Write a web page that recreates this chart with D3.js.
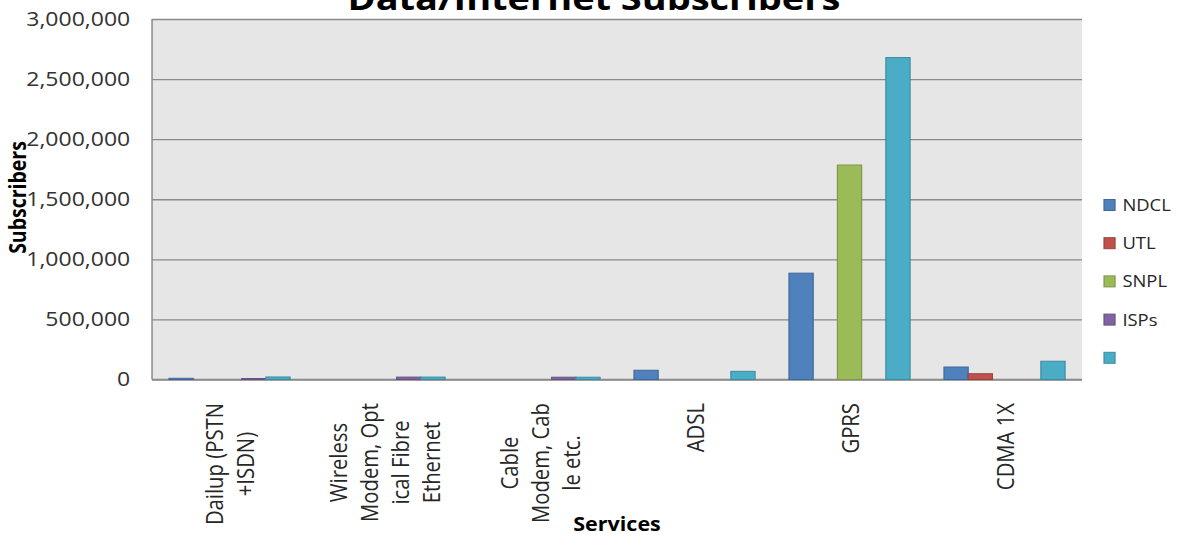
<!DOCTYPE html>
<html>
<head>
<meta charset="utf-8">
<script src="https://cdn.jsdelivr.net/npm/d3@7"></script>
<style>
  body { margin: 0; background: #fff; }
  text { font-family: "Open Sans", sans-serif; }
</style>
</head>
<body>
<svg id="chart"></svg>
<script>
// data
var categories = ["Dailup (PSTN +ISDN)", "Wireless Modem, Optical Fibre Ethernet", "Cable Modem, Cable etc.", "ADSL", "GPRS", "CDMA 1X"];
var tickLines = [["Dailup (PSTN", "+ISDN)"], ["Wireless", "Modem, Opt", "ical Fibre", "Ethernet"], ["Cable", "Modem, Cab", "le etc."], ["ADSL"], ["GPRS"], ["CDMA 1X"]];
var seriesNames = ["NDCL", "UTL", "SNPL", "ISPs", ""];
var ndcl = [10000, 0, 0, 77000, 885000, 104000];
var utl  = [0, 0, 0, 0, 0, 48000];
var snpl = [0, 0, 0, 0, 1785000, 0];
var isps = [8000, 20000, 19000, 0, 0, 0];
var total = [21000, 20000, 19000, 68000, 2679000, 152000];
var yTicks = [0, 500000, 1000000, 1500000, 2000000, 2500000, 3000000];

var series = [ndcl, utl, snpl, isps, total];
var colors = ["#4F81BD", "#C0504D", "#9BBB59", "#8064A2", "#4BACC6"];

// the picture is a bit wide, so draw in a narrower box and stretch it
var sx = 1.15, w = 1179, h = 535, vw = w / sx;
var pLeft = 132.2, pRight = 940.9, pTop = 19, pBottom = 379.5;

var svg = d3.select("#chart")
    .attr("width", w)
    .attr("height", h)
    .attr("viewBox", [0, 0, vw, h].join(" "))
    .attr("preserveAspectRatio", "none");

var x0 = d3.scaleBand().domain(categories).range([pLeft, pRight]);
var x1 = d3.scaleBand().domain(d3.range(series.length))
    .range([0, x0.bandwidth()]).paddingOuter(0.7);
var y = d3.scaleLinear().domain([0, 3000000]).range([pBottom, pTop]);

svg.append("rect")
    .attr("x", pLeft).attr("y", pTop)
    .attr("width", pRight - pLeft).attr("height", pBottom - pTop)
    .attr("fill", "#e6e6e6");

// gridlines + tick labels
var yAxis = svg.append("g")
    .attr("transform", "translate(" + pLeft + ",0)")
    .call(d3.axisLeft(y).tickValues(yTicks).tickFormat(d3.format(","))
        .tickSize(-(pRight - pLeft)).tickPadding(19));
yAxis.select(".domain").remove();
yAxis.selectAll("line").attr("stroke", "#8a8a8a").attr("stroke-width", 1.3);
yAxis.selectAll("text")
    .attr("font-size", 20)
    .attr("fill", "#333")
    .attr("font-family", "Open Sans, sans-serif");

// axis lines
svg.append("line")
    .attr("x1", pLeft).attr("x2", pLeft).attr("y1", pTop).attr("y2", pBottom)
    .attr("stroke", "#8a8a8a").attr("stroke-width", 1.3);
svg.append("line")
    .attr("x1", pLeft).attr("x2", pRight).attr("y1", pBottom).attr("y2", pBottom)
    .attr("stroke", "#8a8a8a").attr("stroke-width", 1.3);

// bars
series.forEach(function(vals, s) {
    var data = categories.map(function(c, i) { return {cat: c, v: vals[i]}; })
        .filter(function(d) { return d.v > 0; });
    svg.append("g").selectAll("rect")
        .data(data)
        .enter().append("rect")
        .attr("x", function(d) { return x0(d.cat) + x1(s); })
        .attr("y", function(d) { return y(d.v); })
        .attr("width", x1.bandwidth())
        .attr("height", function(d) { return y(0) - y(d.v); })
        .attr("fill", colors[s])
        .attr("stroke", d3.color(colors[s]).darker(0.6))
        .attr("stroke-width", 1);
});

// category labels, rotated, lines centred on the longest one
var lineStep = 26.9, labelTop = 403;
categories.forEach(function(c, i) {
    var cx = x0(c) + x0.bandwidth() / 2;
    var lines = tickLines[i];
    var g = svg.append("g");
    var texts = g.selectAll("text")
        .data(lines)
        .enter().append("text")
        .text(function(d) { return d; })
        .attr("font-size", 20.3)
        .attr("fill", "#262626")
        .attr("text-anchor", "middle")
        .attr("dominant-baseline", "central");
    var maxLen = 0;
    texts.each(function() { maxLen = Math.max(maxLen, this.getComputedTextLength()); });
    texts.attr("transform", function(d, j) {
        var lx = cx + (j - (lines.length - 1) / 2) * lineStep;
        return "translate(" + lx + "," + (labelTop + maxLen / 2) + ")rotate(-90)";
    });
});

// titles
svg.append("text")
    .attr("x", 516.5).attr("y", 10)
    .attr("text-anchor", "middle")
    .attr("font-size", 33).attr("font-weight", "bold")
    .text("Data/Internet Subscribers");

svg.append("text")
    .attr("x", (pLeft + pRight) / 2).attr("y", 531)
    .attr("text-anchor", "middle")
    .attr("font-size", 18.7).attr("font-weight", "bold")
    .text("Services");

svg.append("text")
    .attr("transform", "translate(14.8,197.5)rotate(-90)")
    .attr("text-anchor", "middle")
    .attr("dominant-baseline", "central")
    .attr("font-size", 19.5).attr("font-weight", "bold")
    .text("Subscribers");

// legend
var legend = svg.append("g").selectAll("g")
    .data(seriesNames)
    .enter().append("g")
    .attr("transform", function(d, i) { return "translate(960," + (205 + i * 38.2) + ")"; });
legend.append("rect")
    .attr("x", 0).attr("y", -5.5)
    .attr("width", 9.6).attr("height", 11)
    .attr("fill", function(d, i) { return colors[i]; })
    .attr("stroke", function(d, i) { return d3.color(colors[i]).darker(0.6); })
    .attr("stroke-width", 1);
legend.append("text")
    .attr("x", 16).attr("y", 0)
    .attr("dominant-baseline", "central")
    .attr("font-size", 16)
    .attr("fill", "#262626")
    .text(function(d) { return d; });
</script>
</body>
</html>
